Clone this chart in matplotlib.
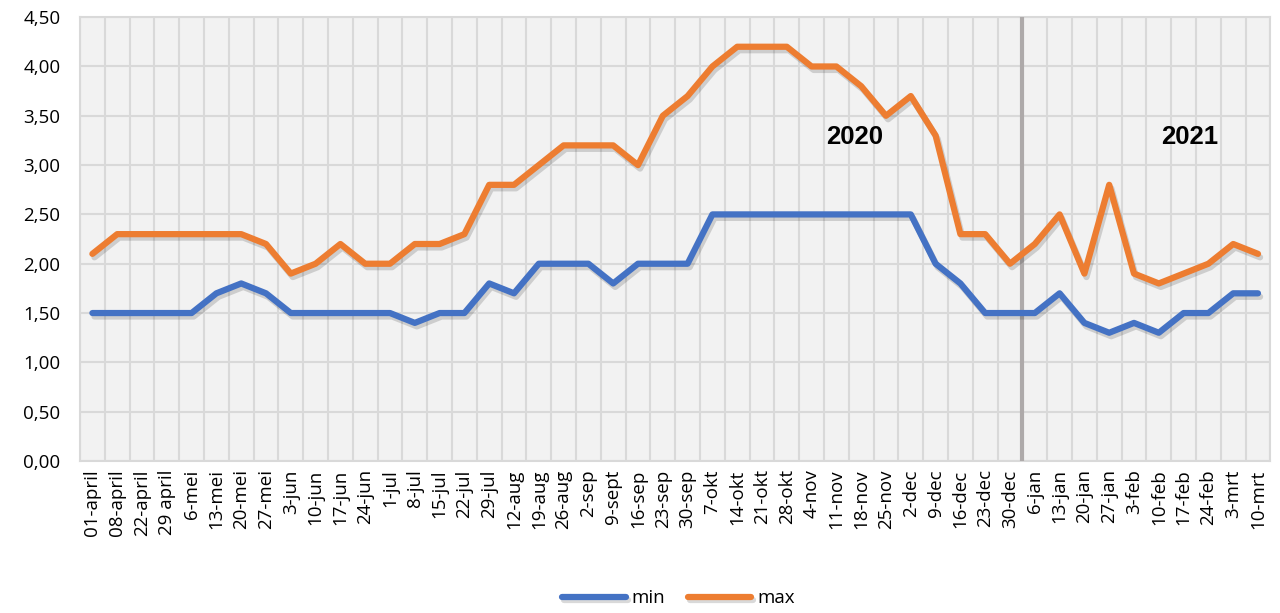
import numpy as np
import matplotlib
matplotlib.use("Agg")
import matplotlib.pyplot as plt
import matplotlib.patheffects as pe

weeks = ["01-april", "08-april", "22-april", "29 april", "6-mei", "13-mei", "20-mei", "27-mei",
         "3-jun", "10-jun", "17-jun", "24-jun", "1-jul", "8-jul", "15-jul", "22-jul", "29-jul",
         "12-aug", "19-aug", "26-aug", "2-sep", "9-sept", "16-sep", "23-sep", "30-sep",
         "7-okt", "14-okt", "21-okt", "28-okt", "4-nov", "11-nov", "18-nov", "25-nov",
         "2-dec", "9-dec", "16-dec", "23-dec", "30-dec", "6-jan", "13-jan", "20-jan", "27-jan",
         "3-feb", "10-feb", "17-feb", "24-feb", "3-mrt", "10-mrt"]

min_vals = [1.5, 1.5, 1.5, 1.5, 1.5, 1.7, 1.8, 1.7,
            1.5, 1.5, 1.5, 1.5, 1.5, 1.4, 1.5, 1.5, 1.8,
            1.7, 2.0, 2.0, 2.0, 1.8, 2.0, 2.0, 2.0,
            2.5, 2.5, 2.5, 2.5, 2.5, 2.5, 2.5, 2.5,
            2.5, 2.0, 1.8, 1.5, 1.5, 1.5, 1.7, 1.4, 1.3,
            1.4, 1.3, 1.5, 1.5, 1.7, 1.7]

max_vals = [2.1, 2.3, 2.3, 2.3, 2.3, 2.3, 2.3, 2.2,
            1.9, 2.0, 2.2, 2.0, 2.0, 2.2, 2.2, 2.3, 2.8,
            2.8, 3.0, 3.2, 3.2, 3.2, 3.0, 3.5, 3.7,
            4.0, 4.2, 4.2, 4.2, 4.0, 4.0, 3.8, 3.5,
            3.7, 3.3, 2.3, 2.3, 2.0, 2.2, 2.5, 1.9, 2.8,
            1.9, 1.8, 1.9, 2.0, 2.2, 2.1]

yticks = [0, 0.5, 1.0, 1.5, 2.0, 2.5, 3.0, 3.5, 4.0, 4.5]

plt.rcParams["font.family"] = ["Open Sans", "DejaVu Sans"]

fig = plt.figure(figsize=(12.8, 6.13), dpi=100)
ax = fig.add_axes([0.0625, 0.248, 0.930, 0.724])
ax.set_facecolor("#f2f2f2")

x = np.arange(len(weeks))
shadow = [pe.SimpleLineShadow(offset=(1.5, -2.5), shadow_color="#000000", alpha=0.15), pe.Normal()]
ax.plot(x, min_vals, color="#4472c4", lw=4.5, solid_capstyle="round", label="min",
        path_effects=shadow, zorder=4)
ax.plot(x, max_vals, color="#ed7d31", lw=4.5, solid_capstyle="round", label="max",
        path_effects=shadow, zorder=4)

# year divider
ax.axvline(37.5, color="#aeaaaa", lw=3, zorder=3)
ax.text(30.75, 3.28, "2020", fontsize=18.5, fontweight="bold", ha="center", va="center",
        family=["Liberation Sans", "DejaVu Sans"])
ax.text(44.25, 3.28, "2021", fontsize=18.5, fontweight="bold", ha="center", va="center",
        family=["Liberation Sans", "DejaVu Sans"])

ax.set_xlim(-0.5, len(weeks) - 0.5)
ax.set_ylim(0, 4.5)
ax.set_xticks(x)
ax.set_xticklabels(weeks, rotation=90, fontsize=13.5)
ax.set_xticks(np.arange(len(weeks) + 1) - 0.5, minor=True)
ax.set_yticks(yticks)
ax.set_yticklabels([f"{v:.2f}".replace(".", ",") for v in yticks], fontsize=13.5)
ax.tick_params(axis="both", which="both", length=0)
ax.tick_params(axis="y", pad=14)
ax.tick_params(axis="x", pad=6)

ax.grid(True, which="minor", axis="x", color="#d9d9d9", lw=1.5, zorder=1)
ax.grid(True, which="major", axis="y", color="#d9d9d9", lw=1.5, zorder=1)
ax.set_axisbelow(True)
for sp in ax.spines.values():
    sp.set_color("#d9d9d9")
    sp.set_linewidth(1.5)

fig.legend(loc="center", bbox_to_anchor=(0.53, 0.024), ncol=2, frameon=False,
           fontsize=13.5, handlelength=3.4, columnspacing=1.2, handletextpad=0.3)

fig.savefig("out.png", dpi=100)
